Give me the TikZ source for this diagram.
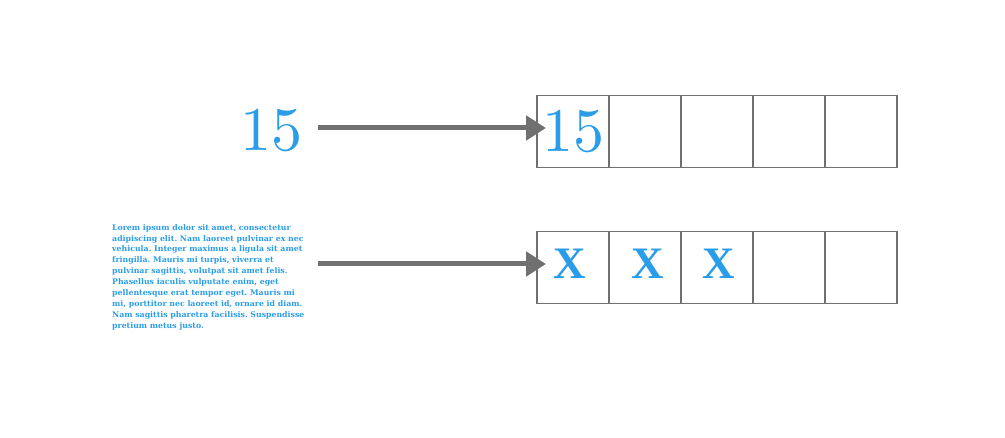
\documentclass[tikz,border=0pt]{standalone}
\usepackage{fontspec}
\usetikzlibrary{arrows.meta}
\newfontfamily\parafont{DejaVu Serif}
\newfontfamily\markfont{Liberation Serif}
\newfontfamily\numfont{lmroman10-regular.otf}
\definecolor{colB}{rgb}{.165,.616,.910}
\colorlet{ecol}{black!56!white}
\tikzstyle{cell}=[draw=ecol, line width=1.2pt, minimum size=72pt, inner sep=0pt, outer sep=0pt, text=colB]
\tikzstyle{num}=[text=colB, font=\numfont\fontsize{62}{62}\selectfont, inner sep=0pt]
\tikzstyle{xmark}=[text=colB, font=\markfont\bfseries\fontsize{45}{45}\selectfont]
\tikzstyle{link}=[line width=5pt, ecol, -{Triangle[length=20pt,width=24pt]}]

\begin{document}
\frenchspacing
\begin{tikzpicture}[x=1pt,y=-1pt]
			\useasboundingbox (0,0) rectangle (1005,438);
			% first row
			\node[num] (n) at (271,131) {15};
			\node[cell,num] (a1) at (573,131.5) {15};
			\node[cell] (a2) at (645,131.5) {};
			\node[cell] (a3) at (717,131.5) {};
			\node[cell] (a4) at (789,131.5) {};
			\node[cell] (a5) at (861,131.5) {};
			\coordinate (s1) at (318,128);
			\draw[link] (s1) -- ([xshift=9pt]s1 -| a1.west);
			% second row
			\node[text=colB, font=\parafont\bfseries\fontsize{7.8}{10.9}\selectfont, align=left, anchor=north west, inner sep=0pt] (p) at (112,224) {Lorem ipsum dolor sit amet, consectetur\\ adipiscing elit. Nam laoreet pulvinar ex nec\\ vehicula. Integer maximus a ligula sit amet\\ fringilla. Mauris mi turpis, viverra et\\ pulvinar sagittis, volutpat sit amet felis.\\ Phasellus iaculis vulputate enim, eget\\ pellentesque erat tempor eget. Mauris mi\\ mi, porttitor nec laoreet id, ornare id diam.\\ Nam sagittis pharetra facilisis. Suspendisse\\ pretium metus justo.};
			\node[cell] (b1) at (573,267.5) {};
			\node[cell] (b2) at (645,267.5) {};
			\node[cell] (b3) at (717,267.5) {};
			\node[cell] (b4) at (789,267.5) {};
			\node[cell] (b5) at (861,267.5) {};
			\node[xmark] (x1) at (570,264) {X};
			\node[xmark] (x2) at (648,264) {X};
			\node[xmark] (x3) at (719,264) {X};
			\coordinate (s2) at (318,264);
			\draw[link] (s2) -- ([xshift=9pt]s2 -| b1.west);
		\end{tikzpicture}
\end{document}
